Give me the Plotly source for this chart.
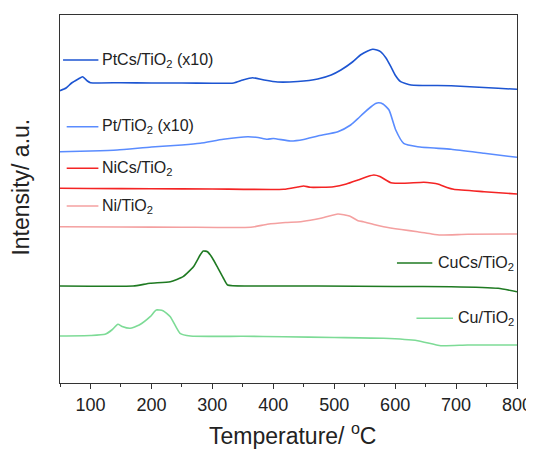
import plotly.graph_objects as go

# Temperature (°C) / intensity (a.u., offset-stacked) for each TPR trace
ptcs_t = [50, 60, 69, 80, 87, 95, 100, 150, 200, 250, 300, 335, 350, 366, 385, 407, 440, 473, 495, 511,
          530, 543, 555, 563, 570, 576, 585, 593, 600, 609, 626, 692, 769, 800]
ptcs_i = [292.3, 295, 300, 304, 306.3, 302, 300.3, 300.3, 300, 300, 299.7, 300, 303, 305.3, 303, 301, 301.5,
          304, 308, 313, 321, 328, 332, 333.7, 333, 331.3, 325, 316.3, 308, 301.3, 298, 297.3, 294.7, 293.7]

pt_t = [50, 100, 144, 200, 250, 280, 318, 358, 375, 390, 400, 428, 450, 473, 506, 527, 540, 548, 560, 568,
        573, 580, 590, 601, 614, 637, 692, 746, 800]
pt_i = [231.3, 232, 233, 236, 238, 239.7, 243.7, 246.3, 245.5, 243.7, 244.5, 242, 243.5, 247, 251.3, 258,
        265, 269.7, 276, 279.5, 280.3, 279, 273, 253, 239.7, 236.3, 233.7, 229.7, 225.7]

nics_t = [50, 100, 200, 300, 417, 440, 450, 461, 499, 520, 539, 555, 565, 575, 593, 614, 647, 660, 670,
          685, 696, 746, 800]
nics_i = [194.7, 194.5, 194.2, 194, 193.7, 196, 197, 195.7, 196.3, 199, 203, 206.5, 208, 206.5, 200.3,
          199.7, 200.7, 200, 199, 195.5, 193.7, 191.3, 189]

ni_t = [50, 150, 250, 363, 390, 420, 445, 480, 506, 525, 539, 548, 565, 581, 610, 637, 660, 675, 719, 800]
ni_i = [156.2, 156, 155.8, 155.7, 158.7, 160.5, 161.3, 165, 169, 167, 162.3, 161.3, 158.5, 156.3, 153.5,
        151.3, 149, 148, 148.7, 149]

cucs_t = [50, 100, 170, 198, 231, 252, 269, 280, 285, 292, 300, 308, 318, 325, 360, 473, 600, 692, 769, 800]
cucs_i = [97, 96.8, 97, 99.7, 101.3, 106.3, 116.3, 128, 132, 131.3, 125, 116.3, 105, 98, 97, 97, 96.5,
          96.3, 94.7, 91.3]

cu_t = [50, 100, 124, 135, 145, 152, 165, 180, 198, 208, 219, 231, 247, 264, 350, 417, 500, 581, 637, 675,
        719, 800]
cu_i = [47, 47.5, 48.7, 53, 58.7, 56.5, 54.7, 58, 66.3, 73, 72.3, 66.3, 49.7, 47, 46.7, 46.3, 45.5, 44.7,
        42.3, 37.3, 38, 38]

names = ["PtCs/TiO<sub>2</sub> (x10)", "Pt/TiO<sub>2</sub> (x10)", "NiCs/TiO<sub>2</sub>",
         "Ni/TiO<sub>2</sub>", "CuCs/TiO<sub>2</sub>", "Cu/TiO<sub>2</sub>"]
x_ticks = [100, 200, 300, 400, 500, 600, 700, 800]
x_minor = [50, 150, 250, 350, 450, 550, 650, 750]
x_title = "Temperature/ <sup>o</sup>C"
y_title = "Intensity/ a.u."

colors = ["#1d55d2", "#5a8cff", "#f42424", "#f4a0a0", "#1f7a22", "#7ddb96"]
series = [(ptcs_t, ptcs_i), (pt_t, pt_i), (nics_t, nics_i), (ni_t, ni_i), (cucs_t, cucs_i), (cu_t, cu_i)]

# label placement: (line x0, line x1, y, text x)
label_pos = [(55, 113, 323, 116), (61, 113, 256.3, 116), (61, 113, 214.7, 116), (61, 113, 177, 116),
             (603, 661, 120, 667), (635, 695, 64.7, 700)]

FONT = "Liberation Sans, Arial"
fig = go.Figure()
for (t, i), c in zip(series, colors):
    fig.add_trace(go.Scatter(x=t, y=i, mode="lines", line=dict(color=c, width=1.6, shape="spline",
                                                                smoothing=0.5),
                             showlegend=False, hoverinfo="skip"))

for (x0, x1, y, tx), name, c in zip(label_pos, names, colors):
    fig.add_shape(type="line", x0=x0, x1=x1, y0=y, y1=y, xref="x", yref="y",
                  line=dict(color=c, width=1.6))
    fig.add_annotation(x=tx, y=y, text=name, showarrow=False, xanchor="left", yanchor="middle",
                       font=dict(size=16, color="#222222", family=FONT))

fig.add_annotation(x=0.508, y=-0.138, xref="paper", yref="paper", text=x_title, showarrow=False,
                   xanchor="center", yanchor="middle", font=dict(size=23, color="#222222", family=FONT))
fig.add_annotation(x=-0.085, y=0.5315, xref="paper", yref="paper", text=y_title, showarrow=False,
                   textangle=-90, xanchor="center", yanchor="middle",
                   font=dict(size=23, color="#222222", family=FONT))

# page body adds an 8px margin, so the figure is 8px smaller and margins compensate
fig.update_layout(
    width=526, height=441,
    margin=dict(l=52, r=17, t=7, b=66),
    paper_bgcolor="white", plot_bgcolor="white",
    font=dict(family=FONT, color="#222222"),
)
fig.update_xaxes(range=[50, 800], tickvals=x_ticks, automargin=False,
                 ticks="outside", ticklen=5, tickwidth=1.2, tickcolor="#333333",
                 minor=dict(tickvals=x_minor, ticks="outside", ticklen=3,
                            tickwidth=1.2, tickcolor="#333333", showgrid=False),
                 showline=True, linecolor="#333333", linewidth=1.3, mirror=True, showgrid=False,
                 zeroline=False, tickfont=dict(size=18))
fig.update_yaxes(range=[0, 368], showticklabels=False, ticks="", automargin=False,
                 showline=True, linecolor="#333333", linewidth=1.3, mirror=True, showgrid=False,
                 zeroline=False)

fig.write_html("out.html")
